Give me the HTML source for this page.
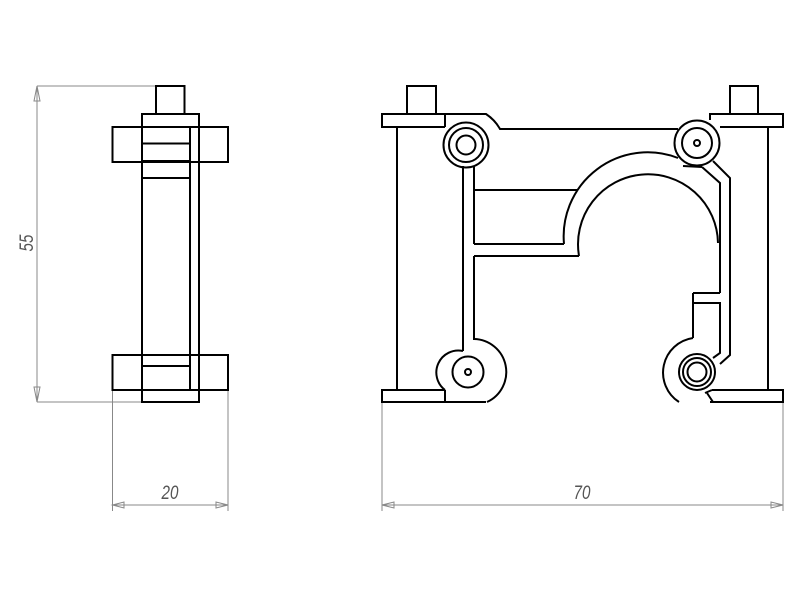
<!DOCTYPE html>
<html><head><style>html,body{margin:0;padding:0;background:#fff}svg{display:block}</style></head>
<body>
<svg width="800" height="600" viewBox="0 0 800 600" xmlns="http://www.w3.org/2000/svg">
<g fill="none" stroke="#888" stroke-width="1">
<line x1="37" y1="86" x2="184" y2="86"/>
<line x1="37" y1="402" x2="142" y2="402"/>
<line x1="37" y1="86" x2="37" y2="402"/>
<path d="M37 86 L34 101 L40 101 Z M37 402 L34 387 L40 387 Z"/>
<line x1="112.5" y1="390" x2="112.5" y2="511"/>
<line x1="228" y1="390" x2="228" y2="511"/>
<line x1="112.5" y1="505" x2="228" y2="505"/>
<path d="M112.5 505 L124 502 L124 508 Z M228 505 L216 502 L216 508 Z"/>
<line x1="382" y1="402" x2="382" y2="511"/>
<line x1="783" y1="402" x2="783" y2="511"/>
<line x1="382" y1="505" x2="783" y2="505"/>
<path d="M382 505 L394 502 L394 508 Z M783 505 L771 502 L771 508 Z"/>
</g>
<g font-family="Liberation Sans, sans-serif" font-style="italic" font-size="19" fill="#555">
<text x="170" y="499" text-anchor="middle" transform="translate(170,0) scale(0.8,1) translate(-170,0)">20</text>
<text x="582" y="499" text-anchor="middle" transform="translate(582,0) scale(0.8,1) translate(-582,0)">70</text>
<text x="0" y="0" text-anchor="middle" transform="translate(33,243) rotate(-90) scale(0.8,1)">55</text>
</g>
<g fill="none" stroke="#000" stroke-width="2">
<rect x="156" y="86" width="28.5" height="28"/>
<rect x="142" y="114" width="57" height="288"/>
<rect x="112.5" y="127" width="115.5" height="35"/>
<rect x="112.5" y="355" width="115.5" height="35"/>
<line x1="190" y1="127" x2="190" y2="390"/>
<line x1="142" y1="127" x2="199" y2="127"/>
<line x1="142" y1="143.5" x2="190" y2="143.5"/>
<line x1="142" y1="161" x2="190" y2="161"/>
<line x1="142" y1="178" x2="190" y2="178"/>
<line x1="142" y1="366" x2="190" y2="366"/>
<line x1="142" y1="390" x2="199" y2="390"/>

<rect x="407" y="86" width="29" height="28"/>
<rect x="730" y="86" width="28" height="28"/>
<path d="M445 127 L382 127 L382 114 L486 114 Q495 120 500 129 L678 129"/>
<path d="M720 127 L783 127 L783 114 L710 114 L710 120"/>
<line x1="445" y1="114" x2="445" y2="127"/>
<line x1="397" y1="127" x2="397" y2="390"/>
<line x1="768" y1="127" x2="768" y2="390"/>
<path d="M445 390 L382 390 L382 402 L486 402"/>
<line x1="445" y1="390" x2="445" y2="402"/>
<path d="M710 402 L783 402 L783 390 L712 390"/>
<circle cx="466" cy="145" r="22.5"/>
<circle cx="466" cy="145" r="17"/>
<circle cx="466" cy="145" r="9.5"/>
<circle cx="697" cy="143" r="22.5"/>
<circle cx="697" cy="143" r="15"/>
<circle cx="697" cy="143" r="3"/>
<circle cx="468" cy="372" r="15.5"/>
<circle cx="468" cy="372" r="3"/>
<path d="M474 339 A33 33 0 0 1 487 402"/>
<path d="M445 390 A22 22 0 0 1 463 351"/>
<circle cx="697" cy="372" r="18"/>
<circle cx="697" cy="372" r="14"/>
<circle cx="697" cy="372" r="9.5"/>
<path d="M693 338 A35 35 0 0 0 679 402"/>
<path d="M712 390 L705 393"/>
<path d="M707 393 L713 402"/>
<line x1="463" y1="166" x2="463" y2="351"/>
<line x1="474" y1="166" x2="474" y2="244"/>
<line x1="474" y1="256" x2="474" y2="340"/>
<line x1="474" y1="190" x2="577" y2="190"/>
<path d="M474 244 L564 244"/>
<path d="M474 256 L579 256"/>
<path d="M564 244 A84 84 0 0 1 678 158"/>
<path d="M579 256 A70 70 0 1 1 718 243"/>
<path d="M683 166 L702 167"/>
<path d="M713 161 L730 178 L730 355 L720 364"/>
<path d="M702 167 L720 183 L720 293"/>
<path d="M693 293 L720 293"/>
<path d="M693 303 L720 303 L720 353 L713 358"/>
<line x1="693" y1="293" x2="693" y2="338"/>
</g>
</svg>
</body></html>
